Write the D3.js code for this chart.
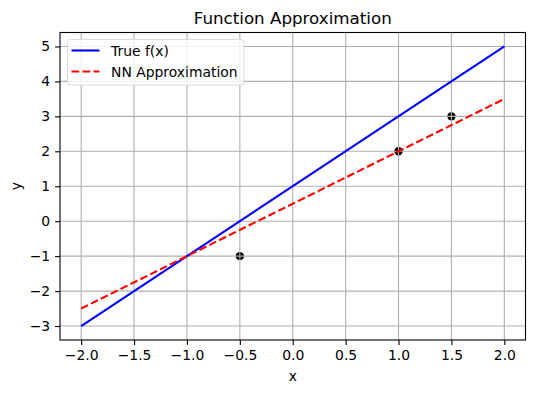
<!DOCTYPE html>
<html>
<head>
<meta charset="utf-8">
<script src="https://cdn.jsdelivr.net/npm/d3@7"></script>
<style>
  body { margin: 0; background: #fff; }
  svg { display: block; font-family: 'DejaVu Sans', sans-serif; }
</style>
</head>
<body>
<div id="chart"></div>
<script>
// data
const lineX = [-2, 2];
const trueY = [-3, 5];
const nnY = [-2.5, 3.5];
const pointX = [-0.5, 1, 1.5];
const pointY = [-1, 2, 3];
const xTicks = [-2, -1.5, -1, -0.5, 0, 0.5, 1, 1.5, 2];
const yTicks = [-3, -2, -1, 0, 1, 2, 3, 4, 5];
const seriesNames = ['True f(x)', 'NN Approximation'];

const width = 534;
const height = 393;
const margin = { top: 32.5, right: 8.5, bottom: 53, left: 60 };

const svg = d3
  .select('#chart')
  .append('svg')
  .attr('width', width)
  .attr('height', height);

const xScale = d3.scaleLinear().domain([-2.2, 2.2]).range([margin.left, width - margin.right]);
const yScale = d3.scaleLinear().domain([-3.4, 5.4]).range([height - margin.bottom, margin.top]);

const tickFmt = d3.format('.1f');

// scatter points (under the grid, like the original)
svg
  .append('g')
  .selectAll('circle')
  .data(pointX.map((x, i) => ({ x, y: pointY[i] })))
  .enter()
  .append('circle')
  .attr('cx', (d) => xScale(d.x))
  .attr('cy', (d) => yScale(d.y))
  .attr('r', 4.2)
  .attr('fill', '#000');

// grid
const grid = svg.append('g').attr('stroke', '#b0b0b0').attr('stroke-width', 1.1);
grid
  .selectAll('.gx')
  .data(xTicks)
  .enter()
  .append('line')
  .attr('x1', (d) => xScale(d))
  .attr('x2', (d) => xScale(d))
  .attr('y1', margin.top)
  .attr('y2', height - margin.bottom);
grid
  .selectAll('.gy')
  .data(yTicks)
  .enter()
  .append('line')
  .attr('y1', (d) => yScale(d))
  .attr('y2', (d) => yScale(d))
  .attr('x1', margin.left)
  .attr('x2', width - margin.right);

// lines
const line = d3
  .line()
  .x((d) => xScale(d[0]))
  .y((d) => yScale(d[1]));

svg
  .append('path')
  .datum(lineX.map((x, i) => [x, trueY[i]]))
  .attr('d', line)
  .attr('fill', 'none')
  .attr('stroke', '#0000ff')
  .attr('stroke-width', 2.1);

svg
  .append('path')
  .datum(lineX.map((x, i) => [x, nnY[i]]))
  .attr('d', line)
  .attr('fill', 'none')
  .attr('stroke', '#ff0000')
  .attr('stroke-width', 2.1)
  .attr('stroke-dasharray', '7.7,3.3');

// axes
const xAxis = d3.axisBottom(xScale).tickValues(xTicks).tickFormat(tickFmt).tickSize(4.9).tickPadding(4.9);
const yAxis = d3.axisLeft(yScale).tickValues(yTicks).tickFormat(d3.format('d')).tickSize(4.9).tickPadding(4.9);

const xAxisGroup = svg
  .append('g')
  .attr('transform', `translate(0, ${height - margin.bottom})`)
  .call(xAxis);
const yAxisGroup = svg
  .append('g')
  .attr('transform', `translate(${margin.left}, 0)`)
  .call(yAxis);

[xAxisGroup, yAxisGroup].forEach((g) => {
  g.select('.domain').remove();
  g.selectAll('line').attr('stroke', '#000').attr('stroke-width', 1.1);
  g.selectAll('text').attr('font-size', 13.9).attr('fill', '#000').attr('font-family', 'DejaVu Sans');
});

// frame
svg
  .append('rect')
  .attr('x', margin.left)
  .attr('y', margin.top)
  .attr('width', width - margin.left - margin.right)
  .attr('height', height - margin.top - margin.bottom)
  .attr('fill', 'none')
  .attr('stroke', '#000')
  .attr('stroke-width', 1.1);

// labels
svg
  .append('text')
  .attr('x', (margin.left + width - margin.right) / 2)
  .attr('y', 24)
  .attr('text-anchor', 'middle')
  .attr('font-size', 16.7)
  .text('Function Approximation');

svg
  .append('text')
  .attr('x', (margin.left + width - margin.right) / 2)
  .attr('y', 381)
  .attr('text-anchor', 'middle')
  .attr('font-size', 13.9)
  .text('x');

svg
  .append('text')
  .attr('transform', `translate(21, ${(margin.top + height - margin.bottom) / 2}) rotate(-90)`)
  .attr('text-anchor', 'middle')
  .attr('font-size', 13.9)
  .text('y');

// legend
const legend = svg.append('g').attr('transform', 'translate(67.5, 39.5)');
legend
  .append('rect')
  .attr('width', 176.5)
  .attr('height', 45.5)
  .attr('rx', 3)
  .attr('fill', 'rgba(255,255,255,0.8)')
  .attr('stroke', '#d9d9d9')
  .attr('stroke-width', 1);

const legendStyles = [
  { color: '#0000ff', dash: null },
  { color: '#ff0000', dash: '7.7,3.3' }
];

seriesNames.forEach((name, i) => {
  const y = 11 + i * 21;
  legend
    .append('line')
    .attr('x1', 4)
    .attr('x2', 32)
    .attr('y1', y)
    .attr('y2', y)
    .attr('stroke', legendStyles[i].color)
    .attr('stroke-width', 2.1)
    .attr('stroke-dasharray', legendStyles[i].dash);
  legend
    .append('text')
    .attr('x', 43.5)
    .attr('y', y + 5)
    .attr('font-size', 13.9)
    .text(name);
});
</script>
</body>
</html>
